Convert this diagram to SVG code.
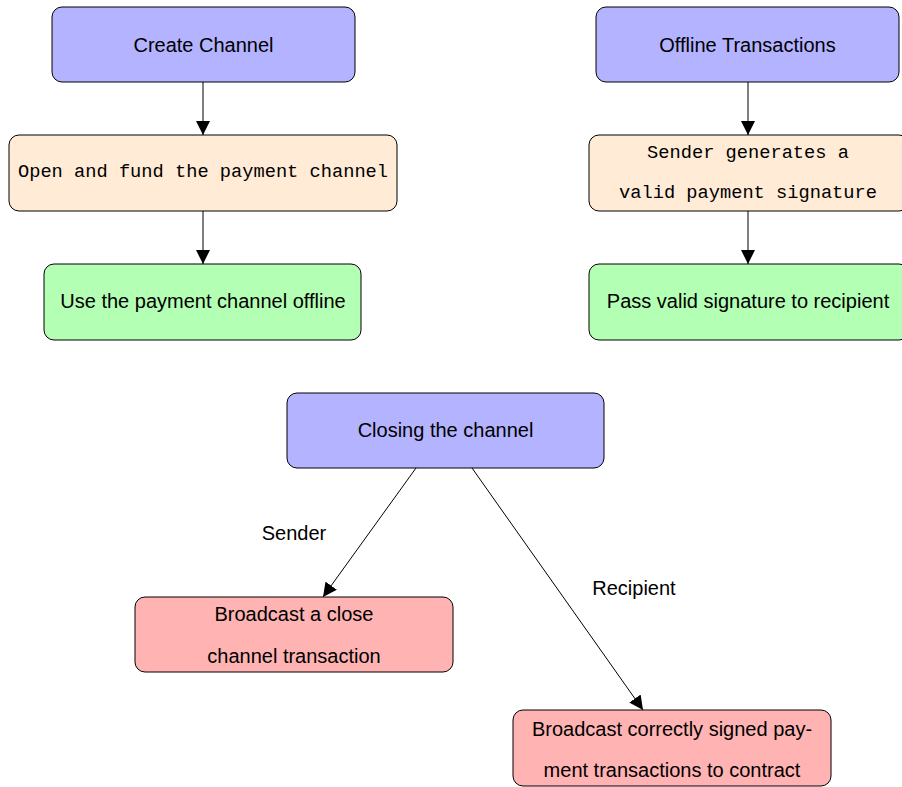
<svg xmlns="http://www.w3.org/2000/svg" width="902" height="787" viewBox="0 0 902 787">
<style>
.box{stroke:#000;stroke-width:1}
.blue{fill:#b3b3ff}.peach{fill:#ffebd6}.green{fill:#b3ffb3}.red{fill:#ffb3b3}
text{font-family:"Liberation Sans",Arial,sans-serif;font-size:20px;fill:#000;text-anchor:middle}
text.mono{font-family:"Liberation Mono","Courier New",monospace;font-size:18.7px}
.edge{stroke:#000;stroke-width:1;fill:none;marker-end:url(#ah)}
</style>
<defs>
<marker id="ah" viewBox="0 0 10 10" refX="10" refY="5" markerWidth="14" markerHeight="14" markerUnits="userSpaceOnUse" orient="auto">
<path d="M0,0 L10,5 L0,10 z" fill="#000"/>
</marker>
</defs>
<g id="create"><rect class="box blue" x="52" y="7" width="303" height="75" rx="10"/><text x="203.5" y="52">Create Channel</text></g>
<g id="open"><rect class="box peach" x="9" y="135" width="388" height="76" rx="10"/><text class="mono" x="203" y="177">Open and fund the payment channel</text></g>
<g id="use"><rect class="box green" x="44" y="264" width="317" height="76" rx="10"/><text x="203" y="308">Use the payment channel offline</text></g>
<g id="offline"><rect class="box blue" x="596" y="7" width="303" height="75" rx="10"/><text x="747.5" y="52">Offline Transactions</text></g>
<g id="sender"><rect class="box peach" x="589" y="135" width="320" height="76" rx="10"/><text class="mono" x="748" y="158">Sender generates a</text><text class="mono" x="748" y="198">valid payment signature</text></g>
<g id="pass"><rect class="box green" x="589" y="264" width="320" height="76" rx="10"/><text x="748" y="308">Pass valid signature to recipient</text></g>
<g id="closing"><rect class="box blue" x="287" y="393" width="317" height="75" rx="10"/><text x="445.5" y="437">Closing the channel</text></g>
<g id="bclose"><rect class="box red" x="135" y="597" width="318" height="75" rx="10"/><text x="294" y="621">Broadcast a close</text><text x="294" y="663">channel transaction</text></g>
<g id="bsigned"><rect class="box red" x="513" y="710" width="318" height="76" rx="10"/><text x="672" y="736">Broadcast correctly signed pay-</text><text x="672" y="777">ment transactions to contract</text></g>
<g id="connectors">
<path class="edge" d="M203,82 L203,135"/>
<path class="edge" d="M203,211 L203,264"/>
<path class="edge" d="M748,82 L748,135"/>
<path class="edge" d="M748,211 L748,264"/>
<path class="edge" d="M416,468 L323,597"/>
<path class="edge" d="M472,468 L643,710"/>
<text x="294" y="540">Sender</text>
<text x="634" y="595">Recipient</text>
</g>
</svg>
